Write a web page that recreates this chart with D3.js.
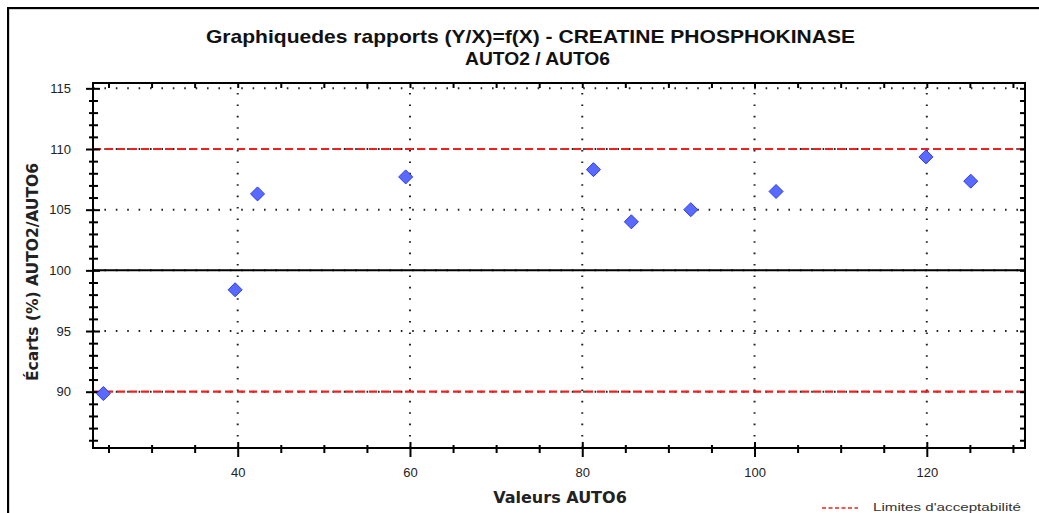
<!DOCTYPE html>
<html>
<head>
<meta charset="utf-8">
<script src="https://cdn.jsdelivr.net/npm/d3@7"></script>
<style>
  html, body { margin: 0; padding: 0; background: #fff; }
  svg { display: block; }
</style>
</head>
<body>
<svg id="chart" width="1039" height="513"></svg>
<script>
// Measured AUTO6 values and the AUTO2/AUTO6 ratio (%)
const xValues = [24.4, 39.7, 42.3, 59.5, 81.3, 85.7, 92.6, 102.5, 119.9, 125.1];
const ratios  = [89.85, 98.4, 106.3, 107.7, 108.3, 104.0, 105.0, 106.5, 109.35, 107.35];

// Axis ticks
const xMajorTicks = [40, 60, 80, 100, 120];
const xMinorTicks = [25, 30, 35, 45, 50, 55, 65, 70, 75, 85, 90, 95, 105, 110, 115, 125, 130];
const yMajorTicks = [90, 95, 100, 105, 110, 115];
const yMinorTicks = d3.range(86, 116).filter(v => v % 5 !== 0);

// Acceptability limits and reference line
const limits = [90, 110];
const reference = [100];

const titleLines = ["Graphiquedes rapports (Y/X)=f(X)  -  CREATINE PHOSPHOKINASE", "AUTO2 / AUTO6"];
const xTitle = "Valeurs AUTO6";
const yTitle = "Écarts (%) AUTO2/AUTO6";
const legendText = "Limites  d'acceptabilité";

const svg = d3.select("#chart");
const L = 93, R = 1025, T = 83, B = 448;

const x = d3.scaleLinear().domain([23.2, 131.4]).range([L, R]);
const y = d3.scaleLinear().domain([85.36, 115.44]).range([B, T]);

// Outer frame
svg.append("rect").attr("x", 9).attr("y", 9).attr("width", 1100).attr("height", 600)
  .attr("fill", "none").attr("stroke", "#aaa").attr("stroke-width", 1);
svg.append("rect").attr("x", 8).attr("y", 8).attr("width", 1100).attr("height", 600)
  .attr("fill", "none").attr("stroke", "#000").attr("stroke-width", 2);

// Title (condensed bold lines)
const title = svg.append("text").attr("text-anchor", "start")
  .attr("font-family", "Liberation Sans, Arial, sans-serif").attr("font-weight", "bold")
  .attr("font-size", 19).attr("fill", "#111");
title.append("tspan").attr("x", 206).attr("y", 43).text(titleLines[0])
  .attr("textLength", 649).attr("lengthAdjust", "spacingAndGlyphs");
title.append("tspan").attr("x", 465).attr("y", 65).text(titleLines[1])
  .attr("textLength", 145).attr("lengthAdjust", "spacingAndGlyphs");

const plot = svg.append("g");

// Dotted grid
const dotted = plot.append("g").attr("stroke", "#222").attr("stroke-width", 2)
  .attr("stroke-dasharray", "1.6,9.8");
dotted.selectAll("line.v").data(xMajorTicks).join("line")
  .attr("x1", d => x(d)).attr("x2", d => x(d)).attr("y1", B).attr("y2", T);
dotted.selectAll("line.h").data(yMajorTicks).join("line")
  .attr("y1", d => y(d)).attr("y2", d => y(d)).attr("x1", L).attr("x2", R);

// Limit lines
plot.append("g").selectAll("line").data(limits).join("line")
  .attr("x1", L).attr("x2", R).attr("y1", d => y(d)).attr("y2", d => y(d))
  .attr("stroke", "#f02020").attr("stroke-width", 2.2).attr("stroke-dasharray", "8,4");

// Reference line at 100 %
plot.append("g").selectAll("line").data(reference).join("line")
  .attr("x1", L).attr("x2", R).attr("y1", d => y(d)).attr("y2", d => y(d))
  .attr("stroke", "#000").attr("stroke-width", 2);

// Axes with crossing ticks
function styleAxis(g, lo, hi, vertical) {
  g.select(".domain").remove();
  g.selectAll(".tick line").attr("stroke", "#000").attr("stroke-width", 2);
  if (vertical) g.selectAll(".tick line").attr("x1", lo).attr("x2", hi);
  else g.selectAll(".tick line").attr("y1", lo).attr("y2", hi);
}

// bottom
const gxMinor = plot.append("g").attr("transform", `translate(0,${B})`)
  .call(d3.axisBottom(x).tickValues(xMinorTicks).tickFormat(""));
styleAxis(gxMinor, -3, 5, false);
const gx = plot.append("g").attr("transform", `translate(0,${B})`)
  .call(d3.axisBottom(x).tickValues(xMajorTicks).tickFormat(d3.format("d")).tickPadding(14));
styleAxis(gx, -6, 9, false);
gx.selectAll(".tick text").attr("font-family", "Liberation Sans, Arial, sans-serif")
  .attr("font-size", 13).attr("fill", "#222");

// top
const gxTop = plot.append("g").attr("transform", `translate(0,${T})`)
  .call(d3.axisTop(x).tickValues(xMinorTicks.concat(xMajorTicks)).tickFormat(""));
styleAxis(gxTop, -1, 5, false);

// left
const gyMinor = plot.append("g").attr("transform", `translate(${L},0)`)
  .call(d3.axisLeft(y).tickValues(yMinorTicks).tickFormat(""));
styleAxis(gyMinor, -4, 5, true);
const gy = plot.append("g").attr("transform", `translate(${L},0)`)
  .call(d3.axisLeft(y).tickValues(yMajorTicks).tickFormat(d3.format("d")).tickPadding(16));
styleAxis(gy, -7, 7, true);
gy.selectAll(".tick text").attr("font-family", "Liberation Sans, Arial, sans-serif")
  .attr("font-size", 13).attr("fill", "#222");

// right
const gyRight = plot.append("g").attr("transform", `translate(${R},0)`)
  .call(d3.axisRight(y).tickValues(yMinorTicks.concat(yMajorTicks)).tickFormat(""));
styleAxis(gyRight, -5, 1, true);

// Plot box
plot.append("rect").attr("x", L).attr("y", T).attr("width", R - L).attr("height", B - T)
  .attr("fill", "none").attr("stroke", "#000").attr("stroke-width", 2);

// Data points (diamonds)
const points = xValues.map((v, i) => ({ x: v, y: ratios[i] }));
plot.append("g").selectAll("path").data(points).join("path")
  .attr("transform", d => `translate(${x(d.x)},${y(d.y)})`)
  .attr("d", "M0,-7L7,0L0,7L-7,0Z")
  .attr("fill", "#5a6aff").attr("stroke", "#2a3af0").attr("stroke-width", 1);

// Axis titles
svg.append("text").attr("x", 560).attr("y", 503).attr("text-anchor", "middle")
  .attr("font-family", "DejaVu Sans, sans-serif").attr("font-weight", "bold")
  .attr("font-size", 16).attr("fill", "#222").text(xTitle);
svg.append("text").attr("transform", "translate(38,272) rotate(-90)").attr("text-anchor", "middle")
  .attr("font-family", "DejaVu Sans, sans-serif").attr("font-weight", "bold")
  .attr("font-size", 15.5).attr("fill", "#222").text(yTitle);

// Legend
svg.append("line").attr("x1", 822).attr("x2", 858).attr("y1", 508).attr("y2", 508)
  .attr("stroke", "#f02020").attr("stroke-width", 1.5).attr("stroke-dasharray", "4,2.5");
svg.append("text").attr("x", 873).attr("y", 511)
  .attr("font-family", "Liberation Sans, Arial, sans-serif").attr("font-size", 11)
  .attr("fill", "#333").attr("textLength", 148).attr("lengthAdjust", "spacingAndGlyphs")
  .text(legendText);
</script>
</body>
</html>
